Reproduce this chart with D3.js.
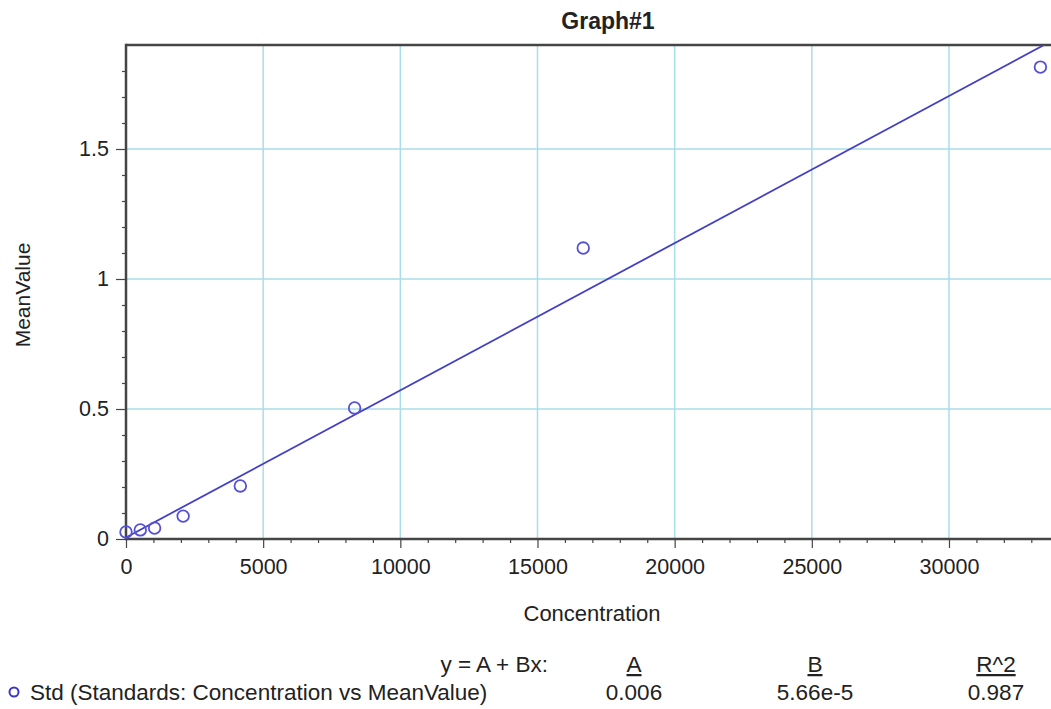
<!DOCTYPE html>
<html><head><meta charset="utf-8">
<script src="https://cdn.jsdelivr.net/npm/d3@7"></script>
<style>
html,body{margin:0;padding:0;background:#fff;}
svg{display:block;font-family:"Liberation Sans",Arial,sans-serif;}
</style></head>
<body>
<svg id="chart" width="1051" height="709"></svg>
<script>
// ---- data ----
const concentration = [0, 521, 1042, 2083, 4167, 8333, 16667, 33333];
const meanValue = [0.027, 0.035, 0.042, 0.088, 0.204, 0.504, 1.119, 1.815];
const fitA = 0.006;
const fitB = 5.66e-5;
const fitR2 = 0.987;
const xTicks = [0, 5000, 10000, 15000, 20000, 25000, 30000];
const yTicks = [0, 0.5, 1, 1.5];
const legendHeaders = ["A", "B", "R^2"];
const legendValues = ["0.006", "5.66e-5", "0.987"];
const seriesLabel = "Std (Standards: Concentration vs MeanValue)";

const svg = d3.select("#chart");
const L = 126, T = 45, B = 539;
const x = d3.scaleLinear().domain([0, 34000]).range([L, L + 34000 * 0.027433]);
const y = d3.scaleLinear().domain([0, 1.9]).range([B, T]);
const W = 1051;

const gridColor = "#a9dde8";
const axisColor = "#454545";
const blue = "#4440c4";

// grid
svg.append("g").selectAll("line.v").data(xTicks.filter(d => d > 0)).join("line")
  .attr("x1", d => x(d)).attr("x2", d => x(d)).attr("y1", T).attr("y2", B)
  .attr("stroke", gridColor).attr("stroke-width", 1.5);
svg.append("g").selectAll("line.h").data(yTicks.filter(d => d > 0)).join("line")
  .attr("x1", L).attr("x2", W).attr("y1", d => y(d)).attr("y2", d => y(d))
  .attr("stroke", gridColor).attr("stroke-width", 1.5);

// axes
const xMinor = d3.range(0, 34000, 1000).filter(d => d % 5000 !== 0);
const yMinor = d3.range(0, 19).map(d => d / 10).filter(d => Math.round(d * 10) % 5 !== 0);

const xAxis = d3.axisBottom(x).tickValues(xTicks).tickSize(9).tickPadding(11).tickFormat(d3.format("d"));
const xAxisMinor = d3.axisBottom(x).tickValues(xMinor).tickSize(4).tickFormat("");
const yAxis = d3.axisLeft(y).tickValues(yTicks).tickSize(10).tickPadding(7).tickFormat(d => String(d));
const yAxisMinor = d3.axisLeft(y).tickValues(yMinor).tickSize(4).tickFormat("");

function styleAxis(g) {
  g.select(".domain").remove();
  g.selectAll(".tick line").attr("stroke", axisColor).attr("stroke-width", 1.2);
  g.selectAll(".tick text").attr("fill", "#222").style("font-size", "21.5px").style("font-family", "Liberation Sans, Arial, sans-serif");
}
svg.append("g").attr("transform", `translate(0,${B})`).call(xAxisMinor).call(styleAxis);
svg.append("g").attr("transform", `translate(0,${B})`).call(xAxis).call(styleAxis);
svg.append("g").attr("transform", `translate(${L},0)`).call(yAxisMinor).call(styleAxis);
svg.append("g").attr("transform", `translate(${L},0)`).call(yAxis).call(styleAxis);

// frame lines
svg.append("line").attr("x1", L).attr("x2", W).attr("y1", T).attr("y2", T).attr("stroke", axisColor).attr("stroke-width", 2.5);
svg.append("line").attr("x1", L).attr("x2", W).attr("y1", B).attr("y2", B).attr("stroke", axisColor).attr("stroke-width", 2.5);
svg.append("line").attr("x1", L).attr("x2", L).attr("y1", T - 1.2).attr("y2", B + 1.2).attr("stroke", axisColor).attr("stroke-width", 2.5);

// clip
svg.append("defs").append("clipPath").attr("id", "plotclip")
  .append("rect").attr("x", L).attr("y", T).attr("width", W - L).attr("height", B - T);

// fit line
const fitPts = [0, 34000].map(c => [c, fitA + fitB * c]);
svg.append("path").attr("clip-path", "url(#plotclip)")
  .attr("d", d3.line().x(d => x(d[0])).y(d => y(d[1]))(fitPts))
  .attr("fill", "none").attr("stroke", blue).attr("stroke-width", 1.8);

// points
svg.append("g").selectAll("circle").data(concentration.map((c, i) => [c, meanValue[i]])).join("circle")
  .attr("cx", d => x(d[0])).attr("cy", d => y(d[1])).attr("r", 5.8)
  .attr("fill", "none").attr("stroke", "#5550d4").attr("stroke-width", 1.8);

// title and labels
svg.append("text").attr("x", 608).attr("y", 29).attr("text-anchor", "middle")
  .style("font-size", "23px").style("font-weight", "bold").attr("fill", "#222").text("Graph#1");
svg.append("text").attr("x", 592).attr("y", 621).attr("text-anchor", "middle")
  .style("font-size", "22px").attr("fill", "#222").text("Concentration");
svg.append("text").attr("transform", "translate(30,295) rotate(-90)").attr("text-anchor", "middle")
  .style("font-size", "21px").attr("fill", "#222").text("MeanValue");

// legend
svg.append("text").attr("x", 548).attr("y", 672).attr("text-anchor", "end")
  .style("font-size", "22.5px").attr("fill", "#222").text("y = A + Bx:");
const colX = [634, 815, 996];
legendHeaders.forEach((h, i) => {
  svg.append("text").attr("x", colX[i]).attr("y", 672).attr("text-anchor", "middle")
    .style("font-size", "22.5px").attr("fill", "#222").attr("text-decoration", "underline").text(h);
});
legendValues.forEach((v, i) => {
  svg.append("text").attr("x", colX[i]).attr("y", 700).attr("text-anchor", "middle")
    .style("font-size", "22.5px").attr("fill", "#222").text(v);
});
svg.append("circle").attr("cx", 14).attr("cy", 692).attr("r", 4.5)
  .attr("fill", "none").attr("stroke", "#3a36c8").attr("stroke-width", 2);
svg.append("text").attr("x", 30).attr("y", 700)
  .style("font-size", "22.5px").attr("fill", "#222").text(seriesLabel);
</script>
</body></html>
